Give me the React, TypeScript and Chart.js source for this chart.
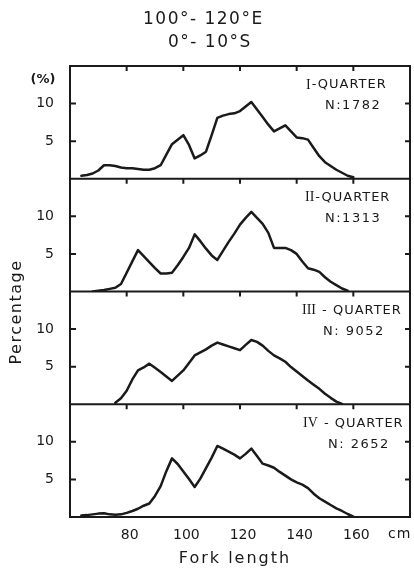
import React, { useEffect, useRef } from "react";
import { Chart, registerables } from "chart.js";

Chart.register(...registerables);

// Fork length classes (cm)
const forkLength = [
  64, 66, 68, 70, 72, 74, 76, 78, 80, 82, 84, 86, 88, 90, 92, 94, 96, 98, 100, 102, 104, 106, 108, 110,
  112, 114, 116, 118, 120, 122, 124, 126, 128, 130, 132, 134, 136, 138, 140, 142, 144, 146, 148, 150,
  152, 154, 156, 158, 160,
];

// Percentage per quarter
const q1 = [
  0.4, 0.5, 0.7, 1.1, 1.8, 1.8, 1.7, 1.5, 1.4, 1.4, 1.3, 1.2, 1.2, 1.4, 1.8, 3.2, 4.6, 5.2, 5.8, 4.5, 2.7, 3.1, 3.6, 5.8,
  8.1, 8.4, 8.6, 8.7, 9.0, 9.6, 10.2, 9.2, 8.2, 7.2, 6.3, 6.7, 7.1, 6.3, 5.5, 5.4, 5.2, 4.1, 3.0, 2.2,
  1.7, 1.2, 0.8, 0.4, 0.2,
];
const q2 = [
  null, null, 0.0, 0.1, 0.2, 0.35, 0.5, 1.0, 2.5, 4.0, 5.5, 4.7, 3.9, 3.1, 2.4, 2.4, 2.5, 3.5, 4.6, 5.8, 7.6, 6.7, 5.7, 4.8,
  4.2, 5.4, 6.6, 7.7, 8.9, 9.8, 10.6, 9.8, 9.0, 7.8, 5.8, 5.8, 5.8, 5.5, 5.0, 4.0, 3.1, 2.9, 2.6, 1.9,
  1.3, 0.85, 0.4, 0.1, null,
];
const q3 = [
  null, null, null, null, null, null, 0.2, 0.8, 1.8, 3.3, 4.5, 4.9, 5.4, 4.85, 4.3, 3.7, 3.1, 3.8, 4.5, 5.5, 6.5, 6.9, 7.3, 7.8,
  8.2, 7.95, 7.7, 7.45, 7.2, 7.9, 8.55, 8.3, 7.8, 7.1, 6.5, 6.1, 5.65, 4.95, 4.35, 3.75, 3.15, 2.6, 2.05, 1.4,
  0.85, 0.35, 0.05, null, null,
];
const q4 = [
  0.2, 0.25, 0.35, 0.45, 0.5, 0.35, 0.3, 0.35, 0.55, 0.8, 1.1, 1.5, 1.8, 2.8, 4.1, 6.1, 7.8, 7.05, 6.05, 5.05, 4.0, 5.1, 6.5, 7.9,
  9.45, 9.1, 8.7, 8.3, 7.8, 8.4, 9.1, 8.1, 7.1, 6.85, 6.55, 6.0, 5.5, 5.0, 4.6, 4.3, 3.85, 3.1, 2.5, 2.05,
  1.6, 1.15, 0.8, 0.4, 0.05,
];

const quarterSeries = [q1, q2, q3, q4];
const quarterNumerals = ["I", "II", "III", "IV"];
const quarterSuffix = ["-QUARTER", "-QUARTER", " - QUARTER", " - QUARTER"];
const sampleSizes = ["N:1782", "N:1313", "N: 9052", "N: 2652"];
const xTickValues = [80, 100, 120, 140, 160];
const yTickValues = [5, 10];
const titleLines = ["100°- 120°E", "0°- 10°S"];
const axisIds = ["y1", "y2", "y3", "y4"];

const INK = "#1a1a1a";

const makeYAxis = (weight: number) => ({
  type: "linear",
  position: "left",
  stack: "quarters",
  stackWeight: 1,
  weight,
  min: 0,
  max: 15,
  offset: false,
  afterBuildTicks: (s: any) => {
    s.ticks = yTickValues.map((v) => ({ value: v }));
  },
  afterFit: (s: any) => {
    s.width = 70;
  },
  grid: { display: false, drawTicks: false },
  border: { display: false },
  ticks: {
    padding: 16,
    color: INK,
    font: { family: "DejaVu Sans", size: 14 },
  },
});

const decorPlugin = {
  id: "decor",
  afterDatasetsDraw(chart: any) {
    const { ctx, chartArea: a, scales } = chart;
    ctx.save();
    ctx.strokeStyle = INK;
    ctx.lineWidth = 2;
    ctx.strokeRect(a.left, a.top, a.right - a.left, a.bottom - a.top);
    ctx.beginPath();
    axisIds.forEach((id, i) => {
      const s = scales[id];
      if (i < axisIds.length - 1) {
        ctx.moveTo(a.left, s.bottom);
        ctx.lineTo(a.right, s.bottom);
      }
      xTickValues.forEach((v) => {
        const x = scales.x.getPixelForValue(v);
        ctx.moveTo(x, s.top);
        ctx.lineTo(x, s.top + 5);
      });
      yTickValues.forEach((v) => {
        const y = s.getPixelForValue(v);
        ctx.moveTo(a.left, y);
        ctx.lineTo(a.left + 6, y);
        ctx.moveTo(a.right, y);
        ctx.lineTo(a.right - 5, y);
      });
    });
    ctx.stroke();
    ctx.restore();
  },
  afterDraw(chart: any) {
    const { ctx, scales } = chart;
    ctx.save();
    ctx.fillStyle = INK;
    ctx.textBaseline = "middle";
    ctx.textAlign = "left";

    // title
    ctx.font = "17px 'DejaVu Sans'";
    (ctx as any).letterSpacing = "1.5px";
    ctx.fillText(titleLines[0], 143, 20);
    ctx.fillText(titleLines[1], 168, 43);

    // (%)
    (ctx as any).letterSpacing = "0px";
    ctx.font = "bold 13px 'DejaVu Sans'";
    ctx.textAlign = "center";
    ctx.fillText("(%)", 43, 80);

    // quarter labels
    const leftX = [306, 305, 302, 303];
    const nX = [325, 325, 323, 328];
    axisIds.forEach((id, i) => {
      const s = scales[id];
      ctx.textAlign = "left";
      ctx.font = "14px 'Liberation Serif'";
      (ctx as any).letterSpacing = "0px";
      ctx.fillText(quarterNumerals[i], leftX[i], s.top + 19);
      const w = ctx.measureText(quarterNumerals[i]).width;
      ctx.font = "13px 'DejaVu Sans'";
      (ctx as any).letterSpacing = "1px";
      ctx.fillText(quarterSuffix[i], leftX[i] + w + 1, s.top + 19);
      (ctx as any).letterSpacing = "1.5px";
      ctx.fillText(sampleSizes[i], nX[i], s.top + 40);
    });

    // cm unit
    (ctx as any).letterSpacing = "1px";
    ctx.font = "14px 'DejaVu Sans'";
    ctx.textAlign = "left";
    ctx.fillText("cm", 388, 534);

    // x title
    (ctx as any).letterSpacing = "2px";
    ctx.font = "16px 'DejaVu Sans'";
    ctx.textAlign = "center";
    ctx.fillText("Fork length", 235, 559);

    // y title
    (ctx as any).letterSpacing = "1.5px";
    ctx.translate(17, 312);
    ctx.rotate(-Math.PI / 2);
    ctx.fillText("Percentage", 0, 0);
    ctx.restore();
  },
};

export default function App() {
  const canvasRef = useRef<HTMLCanvasElement | null>(null);

  useEffect(() => {
    if (!canvasRef.current) return;
    const datasets = quarterSeries.map((series, i) => ({
      label: quarterNumerals[i] + quarterSuffix[i],
      yAxisID: axisIds[i],
      data: forkLength
        .map((x, j) => ({ x, y: series[j] }))
        .filter((p) => p.y !== null),
      borderColor: INK,
      borderWidth: 2.5,
      borderJoinStyle: "round",
      borderCapStyle: "round",
      pointRadius: 0,
      tension: 0,
      fill: false,
    }));

    const chart = new Chart(canvasRef.current, {
      type: "line",
      data: { datasets },
      options: {
        animation: false,
        responsive: false,
        devicePixelRatio: 1,
        layout: { padding: { top: 66, right: 4, left: 0, bottom: 0 } },
        plugins: {
          legend: { display: false },
          tooltip: { enabled: false },
        },
        scales: {
          x: {
            type: "linear",
            position: "bottom",
            min: 60,
            max: 180,
            afterBuildTicks: (s: any) => {
              s.ticks = xTickValues.map((v) => ({ value: v }));
            },
            afterFit: (s: any) => {
              s.height = 52;
            },
            grid: { display: false, drawTicks: false },
            border: { display: false },
            ticks: {
              padding: 10,
              labelOffset: 3,
              color: INK,
              maxRotation: 0,
              autoSkip: false,
              font: { family: "DejaVu Sans", size: 14 },
            },
          },
          y1: makeYAxis(4),
          y2: makeYAxis(3),
          y3: makeYAxis(2),
          y4: makeYAxis(1),
        } as any,
      },
      plugins: [decorPlugin],
    } as any);
    return () => chart.destroy();
  }, []);

  return (
    <div style={{ position: "absolute", left: 0, top: 0, width: 414, height: 569, background: "#fff" }}>
      <canvas ref={canvasRef} width={414} height={569} />
    </div>
  );
}
